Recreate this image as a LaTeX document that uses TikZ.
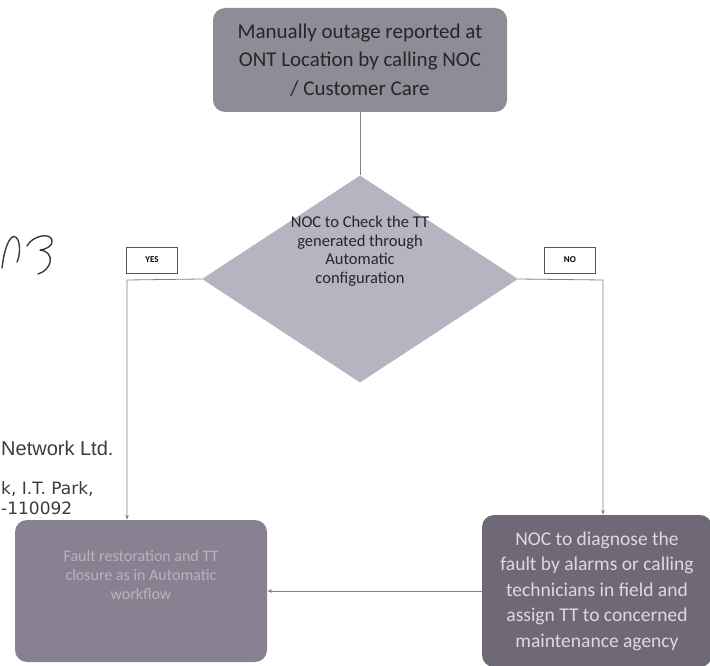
\documentclass[tikz,border=0pt]{standalone}
\usepackage{fontspec}
\setmainfont{Carlito}
\newfontfamily\stampfont{Liberation Sans}
\newfontfamily\addrfont{DejaVu Sans}
\usetikzlibrary{arrows.meta,positioning,shapes.geometric,calc}

\definecolor{repgray}{HTML}{8E8C97}
\definecolor{chkgray}{HTML}{B6B4C0}
\definecolor{fixgray}{HTML}{878191}
\definecolor{diaggray}{HTML}{6F6977}
\definecolor{linegray}{HTML}{80808E}
\definecolor{tagline}{HTML}{55555E}
\definecolor{stampgray}{HTML}{3C3C40}

\begin{document}
\begin{tikzpicture}[
  x=1pt, y=-1pt,
  flowbox/.style={rounded corners=12pt, inner sep=2pt, align=center},
  chkbox/.style={diamond, fill=chkgray, inner sep=0pt,
    minimum width=316pt, minimum height=207pt},
  tag/.style={draw=tagline, fill=white, line width=0.8pt, minimum width=51pt,
    minimum height=26pt, inner sep=0pt, font=\bfseries\fontsize{9}{10}\selectfont},
  line/.style={draw=linegray, line width=0.8pt},
  arr/.style={line, -{Stealth[length=5pt, width=3.5pt]}},
  stamp/.style={anchor=base west, text=stampgray, inner sep=0pt},
  sig/.style={draw=stampgray, line width=1.4pt, line cap=round, line join=round}
]
  \useasboundingbox[fill=white] (0,0) rectangle (710,666);

  % stamp and signature on the page
  \node[stamp, font=\stampfont\fontsize{20}{24}\selectfont] (stampa) at (1,455) {Network Ltd.};
  \node[stamp, font=\addrfont\fontsize{17}{21}\selectfont] (stampb) at (1,494) {k, I.T. Park,};
  \node[stamp, font=\addrfont\fontsize{17}{21}\selectfont] (stampc) at (1,514) {-110092};
  \draw[sig] (2,268) .. controls (5,242) and (13,230) .. (18,240)
    .. controls (21,248) and (19,258) .. (17,262);
  \draw[sig] (27,246) .. controls (32,236) and (50,232) .. (52,240)
    .. controls (54,246) and (44,250) .. (40,250)
    .. controls (56,252) and (52,270) .. (38,274);

  % flow
  \node[flowbox, fill=repgray, minimum width=294pt, minimum height=104pt,
    font=\fontsize{21}{28.5}\selectfont, text=black!85] (rep) at (360,60)
    {Manually outage reported at\\ONT Location by calling NOC\\/ Customer Care};
  \node[chkbox] (chk) at (360,279) {};
  \node[align=center, font=\fontsize{16.5}{18.5}\selectfont, text=black!85, inner sep=0pt]
    (chktxt) at (360,251) {NOC to Check the TT\\generated through\\Automatic\\configuration};

  \node[tag] (yes) at (152,260) {YES};
  \node[tag] (no) at (570,260) {NO};

  \node[flowbox, fill=fixgray, minimum width=252pt, minimum height=142pt,
    font=\fontsize{16}{19}\selectfont, text=fixgray!60!white] (fix) at (141,591)
    {Fault restoration and TT\\closure as in Automatic\\workflow\\[14pt]};
  \node[flowbox, fill=diaggray, minimum width=230pt, minimum height=152pt,
    font=\fontsize{19.5}{25.5}\selectfont, text=white!86!black] (diag) at (597,591)
    {NOC to diagnose the\\fault by alarms or calling\\technicians in field and\\assign TT to concerned\\maintenance agency};

  \coordinate (yesc) at (127,280);
  \coordinate (noc) at (603,280);

  \draw[line] (rep) -- (chk);
  \draw[arr] (chk.west) -- (yesc) -- (yesc |- fix.north);
  \draw[arr] (chk.east) -- (noc) -- (noc |- diag.north);
  \draw[arr] (diag) -- (fix);
\end{tikzpicture}
\end{document}
